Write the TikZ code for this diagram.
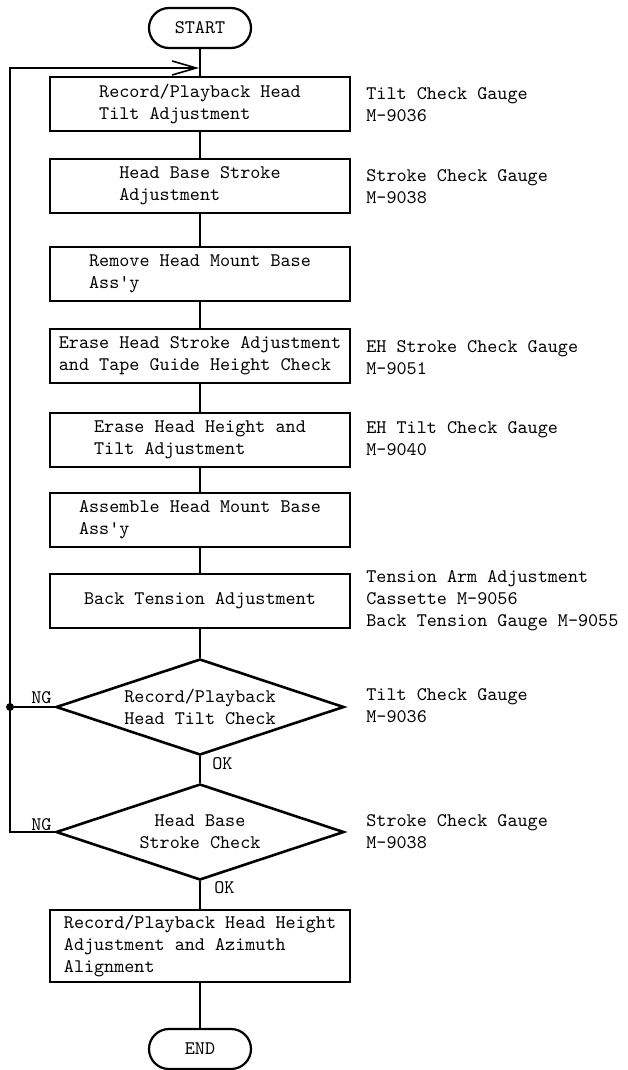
\documentclass[tikz,border=0pt]{standalone}
\usepackage{tikz}
\usetikzlibrary{shapes.geometric,arrows.meta}

\begin{document}
\begin{tikzpicture}[x=0.5pt,y=-0.5pt,
  font=\fontsize{9.6}{11}\selectfont\ttfamily,
  procbox/.style={draw,line width=1.2pt,minimum width=150pt,minimum height=27pt,inner sep=0pt,align=left},
  decide/.style={draw,diamond,aspect=3,line width=1.3pt,minimum width=144pt,minimum height=48pt,inner sep=0pt,align=center},
  term/.style={draw,line width=1.1pt,rounded corners=10pt,minimum width=51pt,minimum height=20pt,inner sep=0pt},
  note/.style={anchor=west,align=left,inner sep=0pt},
  flow/.style={line width=0.8pt}]
\useasboundingbox (0,0) rectangle (627,1070);
\node[term] (start) at (200,28) {START};
\node[procbox] (b1) at (200,104) {Record/Playback Head\\Tilt Adjustment};
\node[procbox] (b2) at (200,186) {Head Base Stroke\\Adjustment};
\node[procbox] (b3) at (200,274) {Remove Head Mount Base\\Ass'y};
\node[procbox] (b4) at (200,356) {Erase Head Stroke Adjustment\\and Tape Guide Height Check};
\node[procbox] (b5) at (200,440) {Erase Head Height and\\Tilt Adjustment};
\node[procbox] (b6) at (200,520) {Assemble Head Mount Base\\Ass'y};
\node[procbox] (b7) at (200,601) {Back Tension Adjustment};
\node[decide] (d1) at (200,707) {Record/Playback\\Head Tilt Check};
\node[decide] (d2) at (200,832) {Head Base\\Stroke Check};
\node[procbox,minimum height=36pt] (b8) at (200,946) {Record/Playback Head Height\\Adjustment and Azimuth\\Alignment};
\node[term] (end) at (200,1049) {END};
% tools on the right
\node[note] (n1) at (366,105) {Tilt Check Gauge\\M-9036};
\node[note] (n2) at (366,187) {Stroke Check Gauge\\M-9038};
\node[note] (n4) at (366,358) {EH Stroke Check Gauge\\M-9051};
\node[note] (n5) at (366,439) {EH Tilt Check Gauge\\M-9040};
\node[note] (n7) at (366,601) {Tension Arm Adjustment\\Cassette M-9056\\Back Tension Gauge M-9055};
\node[note] (n8) at (366,706) {Tilt Check Gauge\\M-9036};
\node[note] (n9) at (366,832) {Stroke Check Gauge\\M-9038};
% branch labels
\node[note] (ng1) at (31,698) {NG};
\node[note] (ng2) at (31,825) {NG};
\node[note] (ok1) at (212,764) {OK};
\node[note] (ok2) at (214,888) {OK};
% main line
\draw[flow] (start) -- (b1);
\draw[flow] (b1) -- (b2);
\draw[flow] (b2) -- (b3);
\draw[flow] (b3) -- (b4);
\draw[flow] (b4) -- (b5);
\draw[flow] (b5) -- (b6);
\draw[flow] (b6) -- (b7);
\draw[flow] (b7) -- (d1);
\draw[flow] (d1) -- (d2);
\draw[flow] (d2) -- (b8);
\draw[flow] (b8) -- (end);
% NG return loop
\coordinate (loop) at (10,68);
\coordinate (join) at (199,68);
\coordinate (tap) at (d1.west -| loop);
\draw[flow] (d1.west) -- (tap);
\fill (tap) circle (2pt);
\draw[flow,-{Straight Barb[length=12pt,width=7pt,line width=0.8pt]}] (d2.west) -| (loop) -- (join);
\end{tikzpicture}
\end{document}
